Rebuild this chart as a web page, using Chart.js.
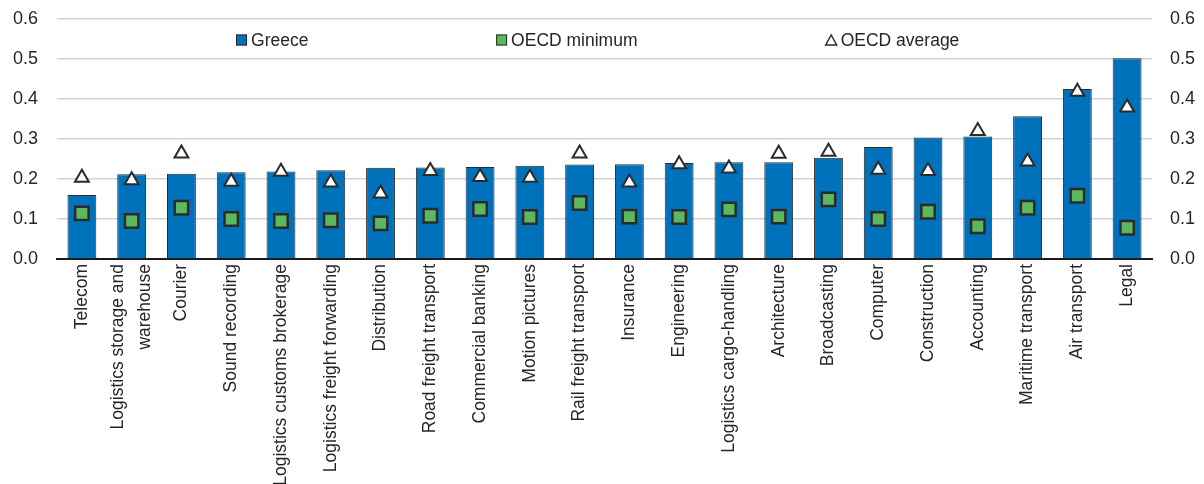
<!DOCTYPE html>
<html>
<head>
<meta charset="utf-8">
<script src="https://cdn.jsdelivr.net/npm/chart.js@4.4.1/dist/chart.umd.min.js"></script>
<style>
    html, body { margin: 0; padding: 0; background: #fff; }
    #wrap { width: 1204px; height: 484px; position: relative; }
</style>
</head>
<body>
<div id="wrap"><canvas id="chart"></canvas></div>
<script>
const categories = [
    'Telecom', ['Logistics storage and', 'warehouse'], 'Courier', 'Sound recording',
    'Logistics customs brokerage', 'Logistics freight forwarding', 'Distribution',
    'Road freight transport', 'Commercial banking', 'Motion pictures', 'Rail freight transport',
    'Insurance', 'Engineering', 'Logistics cargo-handling', 'Architecture', 'Broadcasting',
    'Computer', 'Construction', 'Accounting', 'Maritime transport', 'Air transport', 'Legal'
];

const greece = [
    0.160, 0.212, 0.213, 0.217, 0.219, 0.222, 0.228, 0.229, 0.230, 0.233, 0.236,
    0.237, 0.240, 0.242, 0.242, 0.253, 0.280, 0.304, 0.306, 0.357, 0.425, 0.502
];

const oecdMinimum = [
    0.114, 0.095, 0.128, 0.100, 0.095, 0.097, 0.089, 0.108, 0.125, 0.105, 0.140,
    0.106, 0.105, 0.124, 0.106, 0.149, 0.100, 0.118, 0.082, 0.128, 0.158, 0.078
];

const oecdAverage = [
    0.203, 0.197, 0.264, 0.193, 0.218, 0.191, 0.164, 0.220, 0.205, 0.203, 0.264,
    0.191, 0.237, 0.226, 0.263, 0.268, 0.223, 0.220, 0.320, 0.244, 0.418, 0.379
];

const yTicks = [0, 0.1, 0.2, 0.3, 0.4, 0.5, 0.6];

const FONT = '"Liberation Sans", Arial, sans-serif';
const TEXT = '#262626';
const EDGE = '#2b2b2b';
const LABEL_LINE = 27.5;

// legend sits inside the plot, items spread across the top band
const insideLegend = {
    id: 'insideLegend',
    afterDraw(chart) {
        const { ctx, chartArea } = chart;
        const w = chartArea.right - chartArea.left;
        const y = chartArea.top + 21;
        const spots = [0.1635, 0.401, 0.702];

        ctx.save();
        ctx.font = '17.5px ' + FONT;
        ctx.textBaseline = 'middle';
        ctx.fillStyle = TEXT;

        chart.data.datasets.forEach((ds, i) => {
            const x = chartArea.left + spots[i] * w;
            ctx.lineWidth = 1;
            ctx.strokeStyle = EDGE;
            if (ds.pointStyle === 'triangle') {
                ctx.beginPath();
                ctx.moveTo(x + 5.5, y - 5);
                ctx.lineTo(x + 11, y + 5);
                ctx.lineTo(x, y + 5);
                ctx.closePath();
                ctx.fillStyle = '#fff';
                ctx.fill();
                ctx.lineWidth = 1.5;
                ctx.stroke();
            } else {
                ctx.fillStyle = ds.type === 'line' ? ds.pointBackgroundColor : ds.backgroundColor;
                ctx.fillRect(x, y - 5.5, 11, 11);
                ctx.strokeRect(x + 0.5, y - 5, 10, 10);
            }
            ctx.fillStyle = TEXT;
            ctx.textAlign = 'left';
            ctx.fillText(ds.label, x + 15, y + 1);
        });
        ctx.restore();
    }
};

// rotated two-line labels get centred on their tick instead of hanging off it
const centreWrapped = {
    id: 'centreWrapped',
    beforeDraw(chart) {
        chart.scales.x.getLabelItems().forEach(item => {
            if (Array.isArray(item.label) && !item._centred) {
                item.textOffset -= (item.label.length - 1) * LABEL_LINE / 2;
                item._centred = true;
            }
        });
    }
};

const noEdgePadding = scale => {
    scale.paddingTop = 0;
    scale.paddingBottom = 0;
};

const ctx = document.getElementById('chart').getContext('2d');
new Chart(ctx, {
    data: {
        labels: categories,
        datasets: [
            {
                type: 'bar',
                label: 'Greece',
                data: greece,
                backgroundColor: '#0072bc',
                borderColor: EDGE,
                borderWidth: 1,
                barPercentage: 0.58,
                categoryPercentage: 1,
                order: 3,
                yAxisID: 'y'
            },
            {
                type: 'line',
                label: 'OECD minimum',
                data: oecdMinimum,
                showLine: false,
                pointStyle: 'rect',
                pointRadius: 9.5,
                pointBackgroundColor: '#5cb85f',
                pointBorderColor: EDGE,
                pointBorderWidth: 2.5,
                order: 1,
                yAxisID: 'y'
            },
            {
                type: 'line',
                label: 'OECD average',
                data: oecdAverage,
                showLine: false,
                pointStyle: 'triangle',
                pointRadius: 8,
                pointBackgroundColor: '#ffffff',
                pointBorderColor: EDGE,
                pointBorderWidth: 2,
                order: 2,
                yAxisID: 'y'
            }
        ]
    },
    options: {
        responsive: true,
        maintainAspectRatio: false,
        animation: false,
        layout: { padding: { top: 19, left: 0, right: 0, bottom: 0 } },
        scales: {
            x: {
                grid: { display: false, drawTicks: false },
                border: { display: true, color: '#1a1a1a', width: 2 },
                ticks: {
                    autoSkip: false,
                    minRotation: 90,
                    maxRotation: 90,
                    padding: 5,
                    color: TEXT,
                    font: { family: FONT, size: 17.5, lineHeight: LABEL_LINE / 17.5 }
                },
                afterFit: scale => { scale.height = 225; }
            },
            y: {
                position: 'left',
                min: 0,
                max: 0.6,
                afterBuildTicks: axis => { axis.ticks = yTicks.map(v => ({ value: v })); },
                grid: { color: '#d2d2d2', lineWidth: 1.5, drawTicks: false },
                border: { display: false },
                ticks: {
                    padding: 19,
                    color: TEXT,
                    font: { family: FONT, size: 18 },
                    callback: v => v.toFixed(1)
                },
                afterFit: scale => {
                    scale.width = 57;
                    noEdgePadding(scale);
                }
            },
            y2: {
                position: 'right',
                min: 0,
                max: 0.6,
                afterBuildTicks: axis => { axis.ticks = yTicks.map(v => ({ value: v })); },
                grid: { drawOnChartArea: false, drawTicks: false },
                border: { display: false },
                ticks: {
                    padding: 18,
                    color: TEXT,
                    font: { family: FONT, size: 18 },
                    callback: v => v.toFixed(1)
                },
                afterFit: scale => {
                    scale.width = 52;
                    noEdgePadding(scale);
                }
            }
        },
        plugins: {
            legend: { display: false },
            tooltip: { enabled: false }
        }
    },
    plugins: [insideLegend, centreWrapped]
});
</script>
</body>
</html>
